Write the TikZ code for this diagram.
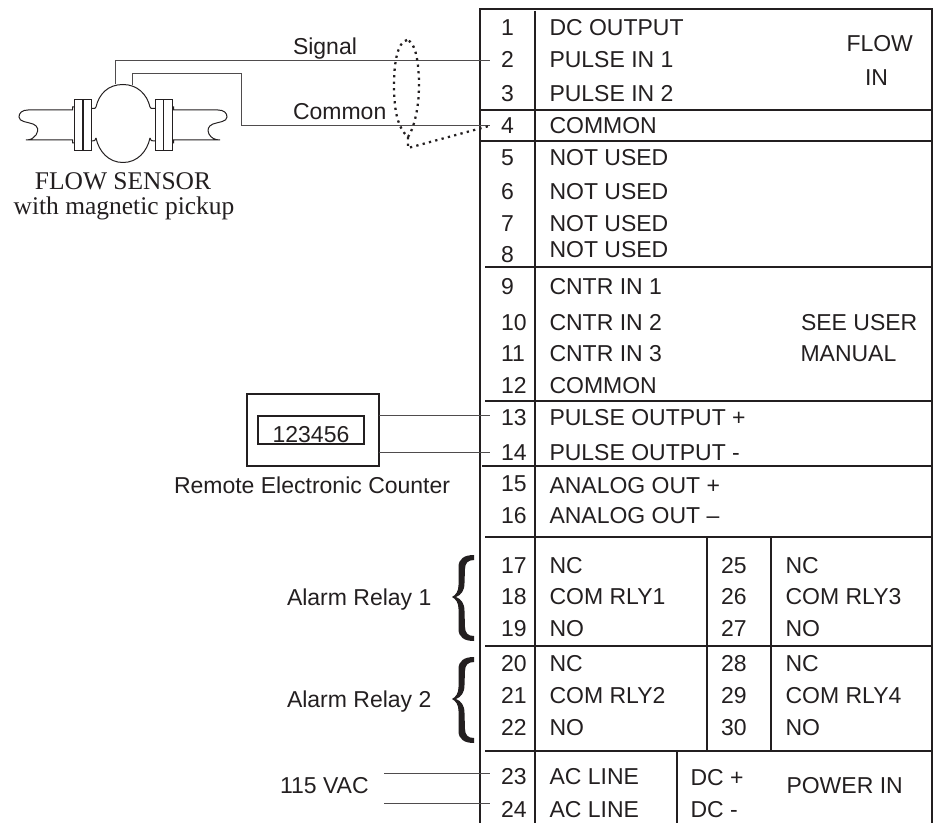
\documentclass[tikz,border=0pt]{standalone}
\usepackage{fontspec}
\setmainfont{Liberation Sans}
\newfontfamily\timesfam{Liberation Serif}
\definecolor{ink}{HTML}{231F20}
\tikzset{
  x=0.75pt,y=-0.75pt,
  lab/.style={inner sep=0pt,outer sep=0pt,anchor=base west,text=ink,font=\fontsize{17.25pt}{20pt}\selectfont},
  serifcap/.style={inner sep=0pt,outer sep=0pt,anchor=base,text=ink,font=\timesfam\fontsize{19.1pt}{22pt}\selectfont},
  grid/.style={draw=ink,line width=1.5pt},
  wire/.style={draw=ink!80,line width=0.7pt},
  sensor/.style={draw=ink,line width=0.75pt},
  dots/.style={draw=ink,line width=1.7pt,dash pattern=on 1.7pt off 3.2pt},
  box/.style={draw=ink,line width=1.6pt,inner sep=0pt,outer sep=0pt},
  relaybrace/.pic={
    \fill[ink] (22,-42) .. controls (12,-42) and (6.5,-38) .. (6.5,-30) -- (6.5,-12)
      .. controls (6.5,-6) and (4,-2) .. (0,0) .. controls (4,2) and (6.5,6) .. (6.5,12) -- (6.5,32)
      .. controls (6.5,40) and (12,44) .. (22,44) -- (22,39)
      .. controls (16,39) and (13,36) .. (13,30) -- (12.5,14)
      .. controls (12.5,6) and (9,2) .. (4,0) .. controls (9,-2) and (12.5,-6) .. (12.5,-14)
      -- (13,-28) .. controls (13,-34) and (16,-37) .. (22,-37) -- cycle;
  }
}
\begin{document}
\begin{tikzpicture}
\useasboundingbox (0,0) rectangle (938,823);
% terminal block
\draw[grid] (480,823) -- (480,9) -- (932,9) -- (932,823);
\draw[grid] (535,11) -- (535,823);
\draw[grid] (480,110) -- (932,110);
\draw[grid] (480,141) -- (932,141);
\draw[grid] (485,267) -- (932,267);
\draw[grid] (485,401) -- (932,401);
\draw[grid] (482,466) -- (932,466);
\draw[grid] (485,537) -- (932,537);
\draw[grid] (485,646) -- (932,646);
\draw[grid] (485,751) -- (932,751);
\draw[grid] (707,537) -- (707,751);
\draw[grid] (771,537) -- (771,751);
\draw[grid] (677,751) -- (677,823);
% terminal numbers
\foreach \n/\b in {1/36,2/68,3/102,4/134,5/166,6/200,7/232,8/263,9/295,10/330,11/362,12/393,13/425,14/460,15/491,16/523,17/573,18/604,19/636,20/671,21/703,22/735,23/784,24/817}
  \node[lab] (n\n) at (501,\b) {\n};
\foreach \n/\b in {25/573,26/604,27/636,28/671,29/703,30/735}
  \node[lab] (n\n) at (721,\b) {\n};
% left column labels
\foreach \k/\t/\b in {a/DC OUTPUT/36,b/PULSE IN 1/68,c/PULSE IN 2/102,d/COMMON/134,e/NOT USED/166,f/NOT USED/200,g/NOT USED/232,h/NOT USED/258,i/CNTR IN 1/295,j/CNTR IN 2/330,k/CNTR IN 3/362,l/COMMON/393,m/PULSE OUTPUT +/425,o/PULSE OUTPUT -/460,p/ANALOG OUT +/493,q/ANALOG OUT --/523,r/NC/573,s/COM RLY1/604,t/NO/636,u/NC/671,v/COM RLY2/703,w/NO/735,x/AC LINE/784,y/AC LINE/817}
  \node[lab] (l\k) at (549.5,\b) {\t};
\foreach \k/\t/\b in {a/NC/573,b/COM RLY3/604,c/NO/636,d/NC/671,e/COM RLY4/703,f/NO/735}
  \node[lab] (r\k) at (785.5,\b) {\t};
\node[lab] (flow) at (846.5,52) {FLOW};
\node[lab] (flowin) at (865,86) {IN};
\node[lab] (see) at (801,330) {SEE USER};
\node[lab] (manual) at (800.5,362) {MANUAL};
\node[lab] (dcp) at (690.5,785) {DC +};
\node[lab] (dcm) at (690.5,817) {DC -};
\node[lab] (pwr) at (786.5,793) {POWER IN};
% terminal ends
\foreach \n/\y in {t2/60,t4/125,t13/415,t14/452,t23/773,t24/803}
  \coordinate (\n) at (490,\y);
% sensor
\draw[sensor] (74,100) rectangle (91,151);
\draw[sensor] (155,100) rectangle (172,151);
\draw[ink,line width=1.4pt] (83,100) -- (83,151);
\draw[sensor] (163,100) -- (163,151);
\draw[sensor] (96,107) .. controls (99,94) and (108,84.5) .. (123,84.5) .. controls (137,84.5) and (147,94) .. (150,107);
\draw[sensor] (96,138) .. controls (99,152) and (109,162.5) .. (123,162.5) .. controls (137,162.5) and (147,152) .. (150,138);
\draw[sensor] (91,108.5) .. controls (94,108.5) and (96,109) .. (96,107);
\draw[sensor] (91,141) .. controls (94,141) and (96,141) .. (96,138);
\draw[sensor] (155,108.5) .. controls (152,108.5) and (150,109) .. (150,107);
\draw[sensor] (155,141) .. controls (152,141) and (150,141) .. (150,138);
\draw[sensor] (74,107) -- (72.5,107) -- (72.5,110) -- (28,110) .. controls (22,110) and (19,113) .. (19,117)
  .. controls (19,122) and (28,122) .. (33,124) .. controls (38,126) and (39,130) .. (36,135) .. controls (34,138) and (31,140) .. (26,140) -- (72.5,140) -- (72.5,143) -- (74,143);
\draw[sensor] (172,107) -- (173.5,107) -- (173.5,110) -- (218,110) .. controls (224,110) and (227,113) .. (227,117)
  .. controls (227,122) and (218,122) .. (213,124) .. controls (208,126) and (207,130) .. (209,134) .. controls (211,138) and (215,140) .. (220,140) -- (173.5,140) -- (173.5,143) -- (172,143);
\coordinate (sigstart) at (115,84.5);
\coordinate (comstart) at (132,85);
\coordinate (comknee) at (241,125);
\draw[wire] (sigstart) -- (sigstart |- t2) -- (t2);
\draw[wire] (comstart) -- ++(0,-12) -| (comknee) -- (t4);
\node[lab] (signal) at (293,55) {Signal};
\node[lab] (common) at (293,120) {Common};
\node[serifcap] (fs) at (123,190) {FLOW SENSOR};
\node[serifcap] (fs2) at (124,215) {with magnetic pickup};
% shield
\coordinate (shieldtop) at (407,40);
\coordinate (shieldbot) at (408,137);
\coordinate (shieldcorner) at (408,148);
\coordinate (shieldend) at (489,126);
\draw[dots] (shieldtop) .. controls (397,42) and (394,65) .. (394,85) .. controls (394,112) and (398,128) .. (shieldbot)
  .. controls (414,128) and (419,108) .. (419,85) .. controls (419,65) and (416,42) .. (shieldtop);
\draw[dots] (shieldbot) -- (shieldcorner) -- (shieldend);
% counter
\node[box,minimum width=132pt*0.75,minimum height=72pt*0.75,anchor=north west] (counter) at (247,394) {};
\node[box,minimum width=106pt*0.75,minimum height=28pt*0.75,anchor=north west] (display) at (258,416) {};
\node[lab,anchor=base] (digits) at (311,442) {123456};
\draw[wire] (counter.east |- t13) -- (t13);
\draw[wire] (counter.east |- t14) -- (t14);
\node[lab] (rec) at (174,493) {Remote Electronic Counter};
% relays
\node[lab] (ar1) at (287,605) {Alarm Relay 1};
\node[lab] (ar2) at (287,707) {Alarm Relay 2};
\pic at (452,597) {relaybrace};
\pic at (452,699) {relaybrace};
% power
\node[lab] (vac) at (280,793) {115 VAC};
\coordinate (p1) at (384,773);
\coordinate (p2) at (384,803);
\draw[wire] (p1) -- (t23);
\draw[wire] (p2) -- (t24);
\end{tikzpicture}
\end{document}
